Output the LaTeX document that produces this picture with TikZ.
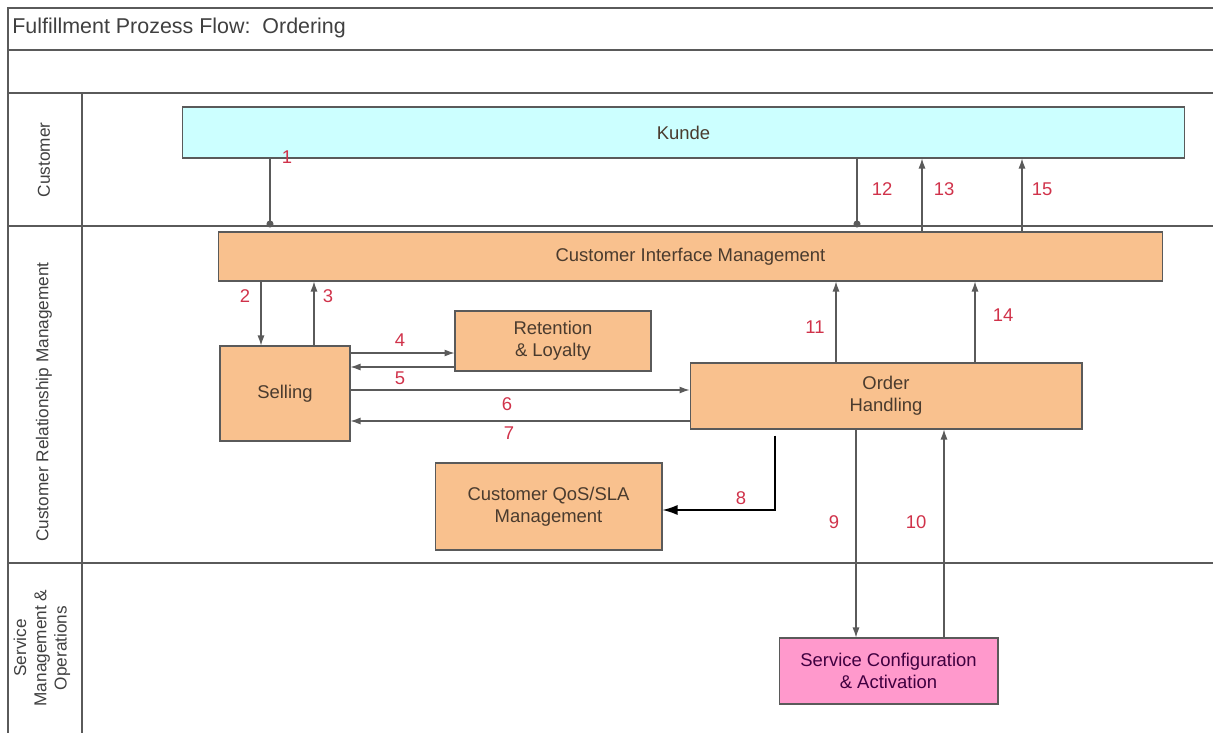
\documentclass[tikz,border=0pt]{standalone}
\usepackage{fontspec}
\setmainfont{Liberation Sans}
\usepackage{tikz}
\usetikzlibrary{arrows.meta}
\definecolor{kundefill}{HTML}{CCFFFF}
\definecolor{crmfill}{HTML}{F9C18E}
\definecolor{smofill}{HTML}{FF99CC}
\definecolor{linegray}{HTML}{5A5A5A}
\definecolor{numred}{HTML}{D0324A}
\definecolor{boxtext}{HTML}{4A3B2E}

\begin{document}
\begin{tikzpicture}[x=0.02cm,y=-0.02cm,
	procbox/.style={rectangle, draw=linegray, semithick, fill=crmfill, align=center, font=\fontsize{10.5}{12.5}\selectfont, text=boxtext},
	lanetext/.style={rotate=90, align=center, font=\fontsize{9.8}{11.5}\selectfont, text=black!75},
	flow/.style={draw=linegray, semithick, -{Latex[length=2mm,width=1.4mm]}},
	dotflow/.style={draw=linegray, semithick, -{Circle[length=1.4mm]}, shorten >=0.8mm},
	num/.style={text=numred, font=\fontsize{10.5}{12}\selectfont},
	]
	\useasboundingbox (0,0) rectangle (1213,733);
	%Frame and lanes
	\draw[linegray, thick] (8,733) -- (8,8) -- (1213,8);
	\draw[linegray, thick] (8,50) -- (1213,50);
	\draw[linegray, thick] (8,93) -- (1213,93);
	\draw[linegray, thick] (8,226) -- (1213,226);
	\draw[linegray, thick] (8,563) -- (1213,563);
	\draw[linegray, thick] (82,93) -- (82,733);
	\node[anchor=west, font=\fontsize{12.2}{14}\selectfont, text=black!75, inner sep=0pt] (title) at (12,28) {Fulfillment Prozess Flow:\ \ Ordering};
	\node[lanetext] (lcust) at (44,160) {Customer};
	\node[lanetext] (lcrm)  at (44,402) {Customer Relationship Management};
	\node[lanetext] (lsmo)  at (42,648) {Service\\Management \&\\Operations};

	%Nodes
	\node[procbox, fill=kundefill, minimum width=20.06cm, minimum height=1.02cm] (kunde) at (683.5,132.5) {Kunde};
	\node[procbox, minimum width=18.9cm, minimum height=0.98cm]  (cim)  at (690.5,256.5) {Customer Interface Management};
	\node[procbox, minimum width=2.6cm, minimum height=1.9cm]    (sell) at (285,393.5)   {Selling};
	\node[procbox, minimum width=3.92cm, minimum height=1.2cm]   (ret)  at (553,341)     {Retention\\\& Loyalty};
	\node[procbox, minimum width=7.84cm, minimum height=1.32cm]  (oh)   at (886,396)     {Order\\Handling};
	\node[procbox, minimum width=4.54cm, minimum height=1.74cm]  (qos)  at (548.5,506.5) {Customer QoS/SLA\\Management};
	\node[procbox, fill=smofill, text=violet!50!black, minimum width=4.38cm, minimum height=1.32cm] (sca) at (888.5,671) {Service Configuration\\\& Activation};

	%Lines
	\draw[dotflow] (kunde.south -| 270,0) -- (cim.north -| 270,0);
	\draw[flow] (cim.south -| 261,0) -- (sell.north -| 261,0);
	\draw[flow] (sell.north -| 314,0) -- (cim.south -| 314,0);
	\draw[flow] (sell.east |- 0,353) -- (ret.west |- 0,353);
	\draw[flow] (ret.west |- 0,367) -- (sell.east |- 0,367);
	\draw[flow] (sell.east |- 0,390) -- (oh.west |- 0,390);
	\draw[flow] (oh.west |- 0,421) -- (sell.east |- 0,421);
	\draw[black, thick, -{Latex[length=3mm,width=2mm]}, shorten <=1.2mm] (oh.south -| 775,0) |- (qos.east |- 0,510);
	\draw[flow] (oh.south -| 856,0) -- (sca.north -| 856,0);
	\draw[flow] (sca.north -| 944,0) -- (oh.south -| 944,0);
	\draw[flow] (oh.north -| 836,0) -- (cim.south -| 836,0);
	\draw[dotflow] (kunde.south -| 857,0) -- (cim.north -| 857,0);
	\draw[flow] (cim.north -| 922,0) -- (kunde.south -| 922,0);
	\draw[flow] (oh.north -| 975,0) -- (cim.south -| 975,0);
	\draw[flow] (cim.north -| 1022,0) -- (kunde.south -| 1022,0);

	%Numbers
	\node[num] (n1)  at (287,157)  {1};
	\node[num] (n2)  at (245,296)  {2};
	\node[num] (n3)  at (328,296)  {3};
	\node[num] (n4)  at (400,340)  {4};
	\node[num] (n5)  at (400,378)  {5};
	\node[num] (n6)  at (507,404)  {6};
	\node[num] (n7)  at (509,433)  {7};
	\node[num] (n8)  at (741,498)  {8};
	\node[num] (n9)  at (834,522)  {9};
	\node[num] (n10) at (916,522)  {10};
	\node[num] (n11) at (815,327)  {11};
	\node[num] (n12) at (882,189)  {12};
	\node[num] (n13) at (944,189)  {13};
	\node[num] (n14) at (1003,315) {14};
	\node[num] (n15) at (1042,189) {15};
\end{tikzpicture}
\end{document}
